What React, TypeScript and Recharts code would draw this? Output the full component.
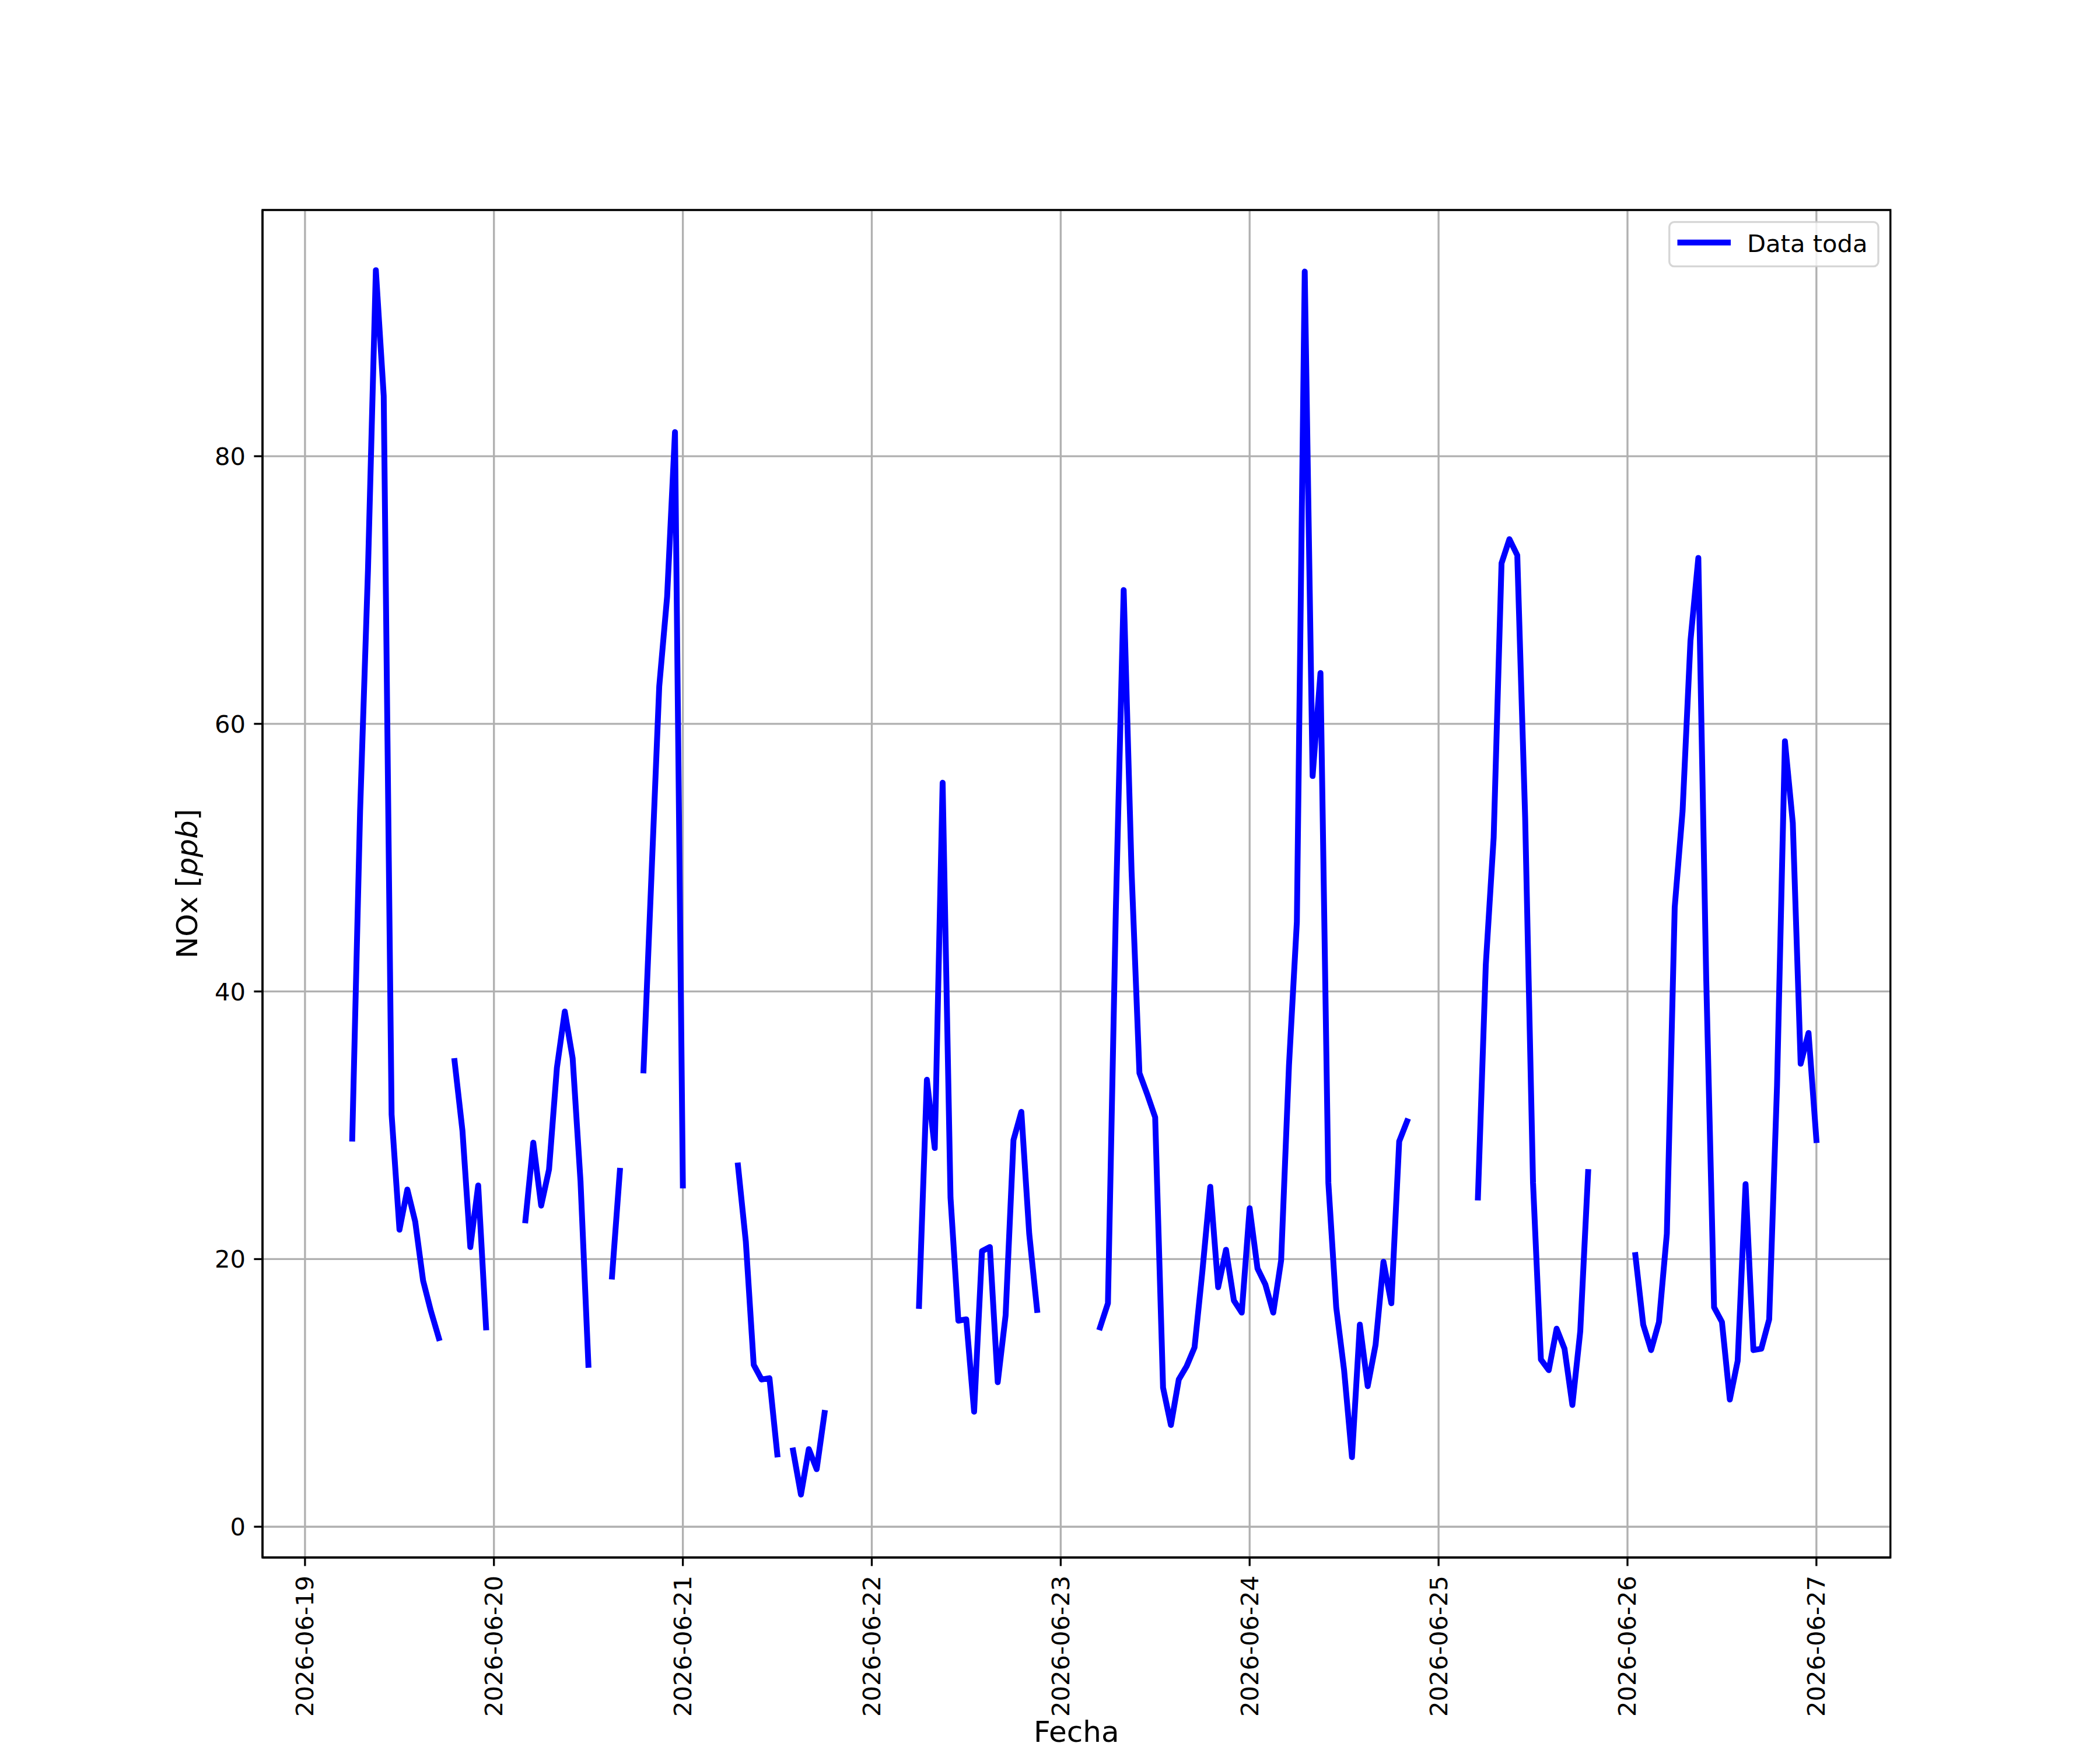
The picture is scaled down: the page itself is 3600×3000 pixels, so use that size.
import React from "react";
import {
  LineChart,
  Line,
  XAxis,
  YAxis,
  CartesianGrid,
  Legend,
  ReferenceArea,
  Label,
} from "recharts";

// ---- data (hourly NOx values in ppb, null = missing) ----
const dayLabels = [
  "2026-06-19",
  "2026-06-20",
  "2026-06-21",
  "2026-06-22",
  "2026-06-23",
  "2026-06-24",
  "2026-06-25",
  "2026-06-26",
  "2026-06-27",
];

const day19 = [null, null, null, null, null, null, 29.0, 53.5, 71.5, 93.9, 84.5, 30.8, 22.2, 25.2, 22.8, 18.4, 16.1, 14.1, null, 34.8, 29.6, 20.9, 25.5, 14.9];
const day20 = [null, null, null, null, 22.9, 28.7, 24.0, 26.7, 34.3, 38.5, 35.0, 25.8, 12.1, null, null, 18.7, 26.6, null, null, 34.1, 48.5, 62.8, 69.5, 81.8];
const day21 = [25.5, null, null, null, null, null, null, 27.0, 21.3, 12.1, 11.0, 11.1, 5.4, null, 5.7, 2.4, 5.8, 4.3, 8.5, null, null, null, null, null];
const day22 = [null, null, null, null, null, null, 16.5, 33.4, 28.3, 55.6, 24.6, 15.4, 15.5, 8.6, 20.6, 20.9, 10.8, 15.8, 28.9, 31.0, 21.9, 16.2, null, null];
const day23 = [null, null, null, null, null, 14.9, 16.7, 46.0, 70.0, 49.0, 33.9, 32.3, 30.6, 10.4, 7.6, 11.0, 12.0, 13.4, 19.1, 25.4, 17.9, 20.7, 16.9, 16.0];
const day24 = [23.8, 19.3, 18.1, 16.0, 19.9, 34.5, 45.2, 93.8, 56.1, 63.8, 25.7, 16.4, 11.7, 5.2, 15.1, 10.5, 13.6, 19.8, 16.7, 28.8, 30.3, null, null, null];
const day25 = [null, null, null, null, null, 24.6, 42.0, 51.5, 72.0, 73.8, 72.6, 53.0, 25.7, 12.5, 11.7, 14.8, 13.3, 9.1, 14.6, 26.5, null, null, null, null];
const day26 = [null, 20.3, 15.1, 13.2, 15.3, 21.9, 46.3, 53.5, 66.2, 72.4, 41.0, 16.4, 15.3, 9.5, 12.4, 25.6, 13.2, 13.3, 15.5, 33.0, 58.7, 52.6, 34.6, 36.9];
const day27 = [28.9];

const yTicks = [0, 20, 40, 60, 80];

const days = [day19, day20, day21, day22, day23, day24, day25, day26, day27];
const data = days.flatMap((arr, d) =>
  arr.map((v, h) => ({ t: d * 24 + h, v }))
);
const xTicks = dayLabels.map((_, i) => i * 24);

// ---- style constants ----
const FONT = "DejaVu Sans";
const FS = 41.67;
const FS_LABEL = 50;
const LW = 3.33;
const LINE_W = 10;
const PLOT_BOTTOM = 2670;

const XTick = (props: any) => {
  const { x, payload } = props;
  const label = dayLabels[Math.round(payload.value / 24)];
  return (
    <text
      transform={`translate(${x + 14.5},${PLOT_BOTTOM + 31}) rotate(-90)`}
      textAnchor="end"
      fontSize={FS}
      fontFamily={FONT}
      fill="#000"
    >
      {label}
    </text>
  );
};

const YTick = (props: any) => {
  const { y, payload } = props;
  return (
    <text
      x={421}
      y={y + 15}
      textAnchor="end"
      fontSize={FS}
      fontFamily={FONT}
      fill="#000"
    >
      {payload.value}
    </text>
  );
};

const XLabel = (props: any) => {
  const vb = props.viewBox || {};
  const cx = vb.x + vb.width / 2;
  return (
    <text
      x={cx}
      y={2986}
      textAnchor="middle"
      fontSize={FS_LABEL}
      fontFamily={FONT}
      fill="#000"
    >
      Fecha
    </text>
  );
};

const YLabel = (props: any) => {
  const vb = props.viewBox || {};
  const cy = vb.y + vb.height / 2;
  return (
    <text
      transform={`translate(338,${cy}) rotate(-90)`}
      textAnchor="middle"
      fontSize={FS_LABEL}
      fontFamily={FONT}
      fill="#000"
    >
      <tspan>NOx [</tspan>
      <tspan fontStyle="italic">ppb</tspan>
      <tspan>]</tspan>
    </text>
  );
};

const LegendBox = () => (
  <svg width={364} height={80} style={{ display: "block" }}>
    <rect
      x={1.7}
      y={1.7}
      width={358.3}
      height={76}
      rx={8.3}
      ry={8.3}
      fill="#ffffff"
      fillOpacity={0.8}
      stroke="#cccccc"
      strokeOpacity={0.8}
      strokeWidth={LW}
    />
    <line x1={20.5} y1={36.7} x2={102} y2={36.7} stroke="#0000ff" strokeWidth={LINE_W} strokeLinecap="square" />
    <text x={135} y={52.7} fontSize={FS} fontFamily={FONT} fill="#000">
      Data toda
    </text>
  </svg>
);

export default function App() {
  return (
    <div style={{ width: 3600, height: 3000, background: "#fff" }}>
      <style>{`body{margin:0;background:#fff}`}</style>
      <LineChart
        width={3600}
        height={3000}
        data={data}
        margin={{ top: 360, right: 359.3, bottom: 0, left: 0 }}
      >
        <CartesianGrid stroke="#b0b0b0" strokeWidth={LW} />
        <XAxis
          type="number"
          dataKey="t"
          domain={[-5.4, 201.4]}
          allowDataOverflow
          ticks={xTicks}
          interval={0}
          height={330}
          tickSize={14.6}
          axisLine={{ stroke: "#000", strokeWidth: LW }}
          tickLine={{ stroke: "#000", strokeWidth: LW }}
          tick={<XTick />}
        >
          <Label content={<XLabel />} />
        </XAxis>
        <YAxis
          type="number"
          domain={[-2.3, 98.4]}
          allowDataOverflow
          ticks={yTicks}
          interval={0}
          width={450}
          tickSize={14.6}
          axisLine={{ stroke: "#000", strokeWidth: LW }}
          tickLine={{ stroke: "#000", strokeWidth: LW }}
          tick={<YTick />}
        >
          <Label content={<YLabel />} />
        </YAxis>
        <Line
          type="linear"
          dataKey="v"
          name="Data toda"
          stroke="#0000ff"
          strokeWidth={LINE_W}
          strokeLinejoin="round"
          strokeLinecap="square"
          dot={false}
          activeDot={false}
          connectNulls={false}
          isAnimationActive={false}
        />
        <ReferenceArea
          x1={-5.4}
          x2={201.4}
          y1={-2.3}
          y2={98.4}
          fill="none"
          fillOpacity={0}
          stroke="#000"
          strokeWidth={LW}
          ifOverflow="visible"
        />
        <Legend
          layout="vertical"
          align="center"
          verticalAlign="middle"
          content={<LegendBox />}
          wrapperStyle={{ left: 2860, top: 379, width: 364, height: 80 }}
        />
      </LineChart>
    </div>
  );
}
